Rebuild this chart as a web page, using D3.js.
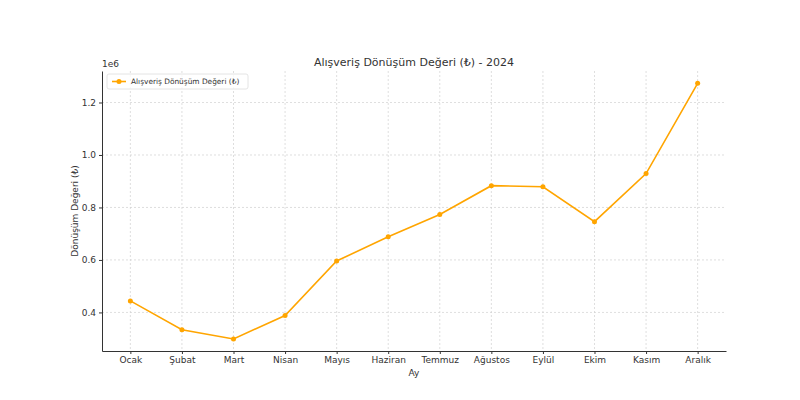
<!DOCTYPE html>
<html>
<head>
<meta charset="utf-8">
<script src="https://cdn.jsdelivr.net/npm/d3@7"></script>
<style>
  body { margin: 0; background: #fff; }
  svg text { font-family: "DejaVu Sans", sans-serif; fill: #333; }
</style>
</head>
<body>
<svg id="chart" width="800" height="400"></svg>
<script>
// chart data
const months = ['Ocak', 'Şubat', 'Mart', 'Nisan', 'Mayıs', 'Haziran', 'Temmuz', 'Ağustos', 'Eylül', 'Ekim', 'Kasım', 'Aralık'];
const conversionValues = [444000, 334000, 299000, 388000, 596000, 688000, 773000, 883000, 879000, 746000, 929000, 1273000];
const yTicks = [400000, 600000, 800000, 1000000, 1200000];
const seriesName = 'Alışveriş Dönüşüm Değeri (₺)';

const svg = d3.select('#chart');
const m = {left: 102, right: 726, top: 71, bottom: 351};
const lineColor = '#ffa500';

const x = d3.scaleLinear()
  .domain([-0.55, months.length - 1 + 0.55])
  .range([m.left, m.right]);
const y = d3.scaleLinear()
  .domain([253000, 1320000])
  .range([m.bottom, m.top]);

// grid
const grid = svg.append('g');
grid.selectAll('line.gx')
  .data(months)
  .enter().append('line')
    .attr('x1', (_, i) => x(i)).attr('x2', (_, i) => x(i))
    .attr('y1', m.top).attr('y2', m.bottom)
    .attr('stroke', '#d0d0d0').attr('stroke-width', 0.7)
    .attr('stroke-dasharray', '2,2');
grid.selectAll('line.gy')
  .data(yTicks)
  .enter().append('line')
    .attr('x1', m.left).attr('x2', m.right)
    .attr('y1', d => y(d)).attr('y2', d => y(d))
    .attr('stroke', '#d0d0d0').attr('stroke-width', 0.7)
    .attr('stroke-dasharray', '2,2');

// axes
const xAxis = d3.axisBottom(x)
  .tickValues(d3.range(months.length))
  .tickFormat(i => months[i])
  .tickSize(3).tickSizeOuter(0);
const gx = svg.append('g')
  .attr('transform', `translate(0,${m.bottom})`)
  .call(xAxis);
gx.selectAll('text').attr('font-size', '9px');

const yAxis = d3.axisLeft(y)
  .tickValues(yTicks)
  .tickFormat(d => (d / 1e6).toFixed(1))
  .tickSize(3).tickSizeOuter(0);
const gy = svg.append('g')
  .attr('transform', `translate(${m.left},0)`)
  .call(yAxis);
gy.selectAll('text').attr('font-size', '9px');

[gx, gy].forEach(g => {
  g.select('.domain').attr('stroke', '#333').attr('stroke-width', 1);
  g.selectAll('.tick line').attr('stroke', '#333');
  g.selectAll('text').attr('fill', '#333').attr('font-family', '"DejaVu Sans", sans-serif');
});

// line + markers
const line = d3.line()
  .x((_, i) => x(i))
  .y(d => y(d));
svg.append('path')
  .datum(conversionValues)
  .attr('d', line)
  .attr('fill', 'none')
  .attr('stroke', lineColor)
  .attr('stroke-width', 1.6);
svg.selectAll('circle.pt')
  .data(conversionValues)
  .enter().append('circle')
    .attr('cx', (_, i) => x(i))
    .attr('cy', d => y(d))
    .attr('r', 2.5)
    .attr('fill', lineColor);

// texts
svg.append('text')
  .attr('x', (m.left + m.right) / 2).attr('y', 66)
  .attr('text-anchor', 'middle').attr('font-size', '11px')
  .text(seriesName + ' - 2024');
svg.append('text')
  .attr('x', m.left).attr('y', 67)
  .attr('font-size', '9px')
  .text('1e6');
svg.append('text')
  .attr('x', (m.left + m.right) / 2).attr('y', 376)
  .attr('text-anchor', 'middle').attr('font-size', '9px')
  .text('Ay');
svg.append('text')
  .attr('transform', `translate(78,${(m.top + m.bottom) / 2}) rotate(-90)`)
  .attr('text-anchor', 'middle').attr('font-size', '9px')
  .text('Dönüşüm Değeri (₺)');

// legend
const lg = svg.append('g').attr('transform', 'translate(107,74)');
lg.append('rect')
  .attr('width', 141).attr('height', 15).attr('rx', 2)
  .attr('fill', '#fff').attr('fill-opacity', 0.8)
  .attr('stroke', '#ddd').attr('stroke-width', 0.8);
lg.append('line')
  .attr('x1', 5).attr('x2', 19).attr('y1', 7.5).attr('y2', 7.5)
  .attr('stroke', lineColor).attr('stroke-width', 1.6);
lg.append('circle')
  .attr('cx', 12).attr('cy', 7.5).attr('r', 2.5).attr('fill', lineColor);
lg.append('text')
  .attr('x', 24).attr('y', 10.3)
  .attr('font-size', '7.4px')
  .text(seriesName);
</script>
</body>
</html>
